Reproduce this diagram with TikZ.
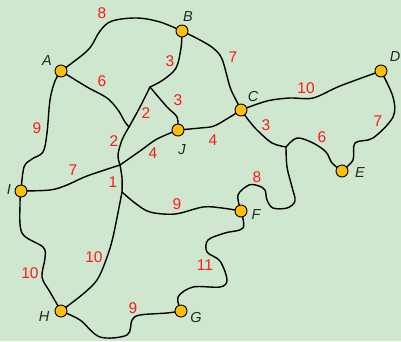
\documentclass[tikz,border=0pt]{standalone}
\usepackage{fontspec}
\setmainfont{Liberation Sans}
\usepackage{xcolor}
\usetikzlibrary{backgrounds}
\definecolor{paper}{RGB}{207,230,207}
\definecolor{townfill}{RGB}{255,190,0}
\definecolor{wred}{RGB}{255,25,25}

\begin{document}
\begin{tikzpicture}[
  x=1pt, y=-1pt,
  town/.style={circle, draw, fill=townfill, line width=0.9pt, minimum size=12pt, inner sep=0pt},
  tname/.style={font=\fontsize{14.5}{16}\selectfont\itshape, text=black!85, inner sep=0pt},
  wt/.style={font=\fontsize{15.5}{17}\selectfont, text=wred, inner sep=0pt},
  road/.style={line width=1.4pt, line join=round, line cap=round},
  curve/.style={smooth, tension=0.55}]
\begin{scope}[on background layer]
\fill[paper] (0,0) rectangle (401,341);
\end{scope}
\useasboundingbox (0,0) rectangle (401,341);

% towns
\node[town] (A) at (61,71) {};
\node[town] (B) at (182,31) {};
\node[town] (C) at (241,110) {};
\node[town] (D) at (381,71) {};
\node[town] (E) at (342,171) {};
\node[town] (F) at (241,211) {};
\node[town] (G) at (181,311) {};
\node[town] (H) at (61,311) {};
\node[town] (I) at (21,191) {};
\node[town] (J) at (178,130) {};
\node[tname] (nA) at (47,61) {A};
\node[tname] (nB) at (188,17) {B};
\node[tname] (nC) at (253,97) {C};
\node[tname] (nD) at (395,57) {D};
\node[tname] (nE) at (360,173) {E};
\node[tname] (nF) at (256,215) {F};
\node[tname] (nG) at (196,317) {G};
\node[tname] (nH) at (44,317) {H};
\node[tname] (nI) at (9,190) {I};
\node[tname] (nJ) at (182,150) {J};

% crossings
\coordinate (k1) at (150,87);
\coordinate (k2) at (129,127);
\coordinate (k3) at (120,165);
\coordinate (k4) at (286,147);
\coordinate (k5) at (122,192);

% roads
\begin{scope}[on background layer]
\draw[road] plot[curve] coordinates {(A.center) (88,50) (100,31) (112,21) (137,18) (160,22) (B.center)};
\draw[road] plot[curve] coordinates {(A.center) (87,87) (107,98) (118,110) (125,122) (k2)};
\draw[road] plot[curve] coordinates {(A.center) (55,81) (50,100) (47,133) (43,152) (32,159) (24,167) (I.center)};
\draw[road] plot[curve] coordinates {(B.center) (181,48) (176,68) (163,80) (k1)};
\draw[road] plot[curve] coordinates {(B.center) (200,40) (213,48) (222,59) (230,87) (236,100) (C.center)};
\draw[road] plot[curve] coordinates {(k1) (140,107) (k2)};
\draw[road] plot[curve] coordinates {(k2) (122,140) (118,155) (k3)};
\draw[road] plot[curve] coordinates {(k1) (167,107) (177,117) (J.center)};
\draw[road] plot[curve] coordinates {(k3) (140,151) (157,139) (J.center)};
\draw[road] plot[curve] coordinates {(J.center) (200,128) (214,126) (230,117) (C.center)};
\draw[road] plot[curve] coordinates {(C.center) (267,101) (290,98) (313,98) (340,86) (D.center)};
\draw[road] plot[curve] coordinates {(C.center) (250,122) (258,131) (272,143) (k4)};
\draw[road] plot[curve] coordinates {(k4) (297,138) (313,143) (326,152) (332,163) (E.center)};
\draw[road] plot[curve] coordinates {(D.center) (393,97) (393,117) (373,138) (355,143) (353,160) (E.center)};
\draw[road] plot[curve] coordinates {(k4) (287,167) (292,187) (295,201) (287,208) (273,208) (267,200) (265,190) (259,186) (249,185) (238,195) (F.center)};
\draw[road] plot[curve] coordinates {(I.center) (50,190) (67,185) (87,176) (k3)};
\draw[road] plot[curve] coordinates {(k3) (122,178) (k5)};
\draw[road] plot[curve] coordinates {(k5) (135,203) (150,212) (175,214) (203,207) (222,208) (F.center)};
\draw[road] plot[curve] coordinates {(k5) (113,237) (106,260) (97,280) (83,294) (H.center)};
\draw[road] plot[curve] coordinates {(I.center) (20,203) (22,233) (43,247) (45,258) (42,277) (50,292) (H.center)};
\draw[road] plot[curve] coordinates {(H.center) (80,320) (100,337) (127,335) (132,320) (140,315) (167,313) (G.center)};
\draw[road] plot[curve] coordinates {(F.center) (243,228) (225,233) (208,240) (207,252) (220,261) (227,280) (220,287) (193,287) (178,297) (G.center)};
\end{scope}

% distances
\node[wt] (dAB) at (102,13) {8};
\node[wt] (dAk) at (102,81) {6};
\node[wt] (dAI) at (37,128) {9};
\node[wt] (dBk) at (170,61) {3};
\node[wt] (dBC) at (233,57) {7};
\node[wt] (dkk) at (146,113) {2};
\node[wt] (dkm) at (114,141) {2};
\node[wt] (dkJ) at (178,100) {3};
\node[wt] (dmJ) at (153,153) {4};
\node[wt] (dJC) at (213,140) {4};
\node[wt] (dCD) at (306,88) {10};
\node[wt] (dCk) at (266,125) {3};
\node[wt] (dkE) at (322,137) {6};
\node[wt] (dDE) at (378,121) {7};
\node[wt] (dkF) at (257,177) {8};
\node[wt] (dIk) at (73,170) {7};
\node[wt] (dkl) at (113,182) {1};
\node[wt] (dlF) at (177,204) {9};
\node[wt] (dlH) at (94,257) {10};
\node[wt] (dIH) at (30,273) {10};
\node[wt] (dHG) at (133,308) {9};
\node[wt] (dFG) at (205,265) {11};
\end{tikzpicture}
\end{document}
